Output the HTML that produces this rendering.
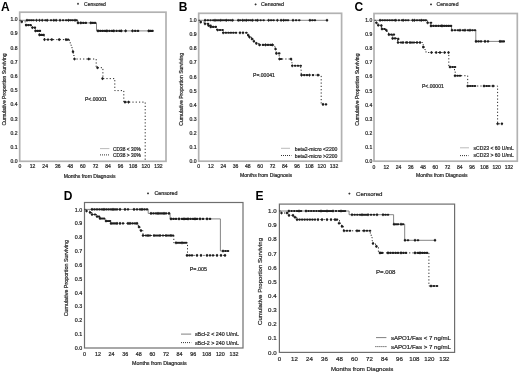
<!DOCTYPE html><html><head><meta charset="utf-8"><style>html,body{margin:0;padding:0;background:#fff;}svg{display:block;filter:grayscale(1);}text{font-family:"Liberation Sans", sans-serif;}</style></head><body>
<svg width="520" height="375" viewBox="0 0 520 375">
<rect width="520" height="375" fill="#fff"/>
<text x="0.9" y="11" font-size="12" text-anchor="start" fill="#000" font-weight="bold">A</text>
<rect x="19.7" y="12.2" width="146.3" height="149.1" fill="none" stroke="#b2b2b2" stroke-width="1.7"/>
<text x="17.6" y="163.22" font-size="5.05" text-anchor="end" fill="#2a2a2a" font-weight="normal" stroke="#2a2a2a" stroke-width="0.22">0.0</text>
<text x="17.6" y="149.02" font-size="5.05" text-anchor="end" fill="#2a2a2a" font-weight="normal" stroke="#2a2a2a" stroke-width="0.22">0.1</text>
<text x="17.6" y="134.82" font-size="5.05" text-anchor="end" fill="#2a2a2a" font-weight="normal" stroke="#2a2a2a" stroke-width="0.22">0.2</text>
<text x="17.6" y="120.62" font-size="5.05" text-anchor="end" fill="#2a2a2a" font-weight="normal" stroke="#2a2a2a" stroke-width="0.22">0.3</text>
<text x="17.6" y="106.42" font-size="5.05" text-anchor="end" fill="#2a2a2a" font-weight="normal" stroke="#2a2a2a" stroke-width="0.22">0.4</text>
<text x="17.6" y="92.22" font-size="5.05" text-anchor="end" fill="#2a2a2a" font-weight="normal" stroke="#2a2a2a" stroke-width="0.22">0.5</text>
<text x="17.6" y="78.02" font-size="5.05" text-anchor="end" fill="#2a2a2a" font-weight="normal" stroke="#2a2a2a" stroke-width="0.22">0.6</text>
<text x="17.6" y="63.82" font-size="5.05" text-anchor="end" fill="#2a2a2a" font-weight="normal" stroke="#2a2a2a" stroke-width="0.22">0.7</text>
<text x="17.6" y="49.62" font-size="5.05" text-anchor="end" fill="#2a2a2a" font-weight="normal" stroke="#2a2a2a" stroke-width="0.22">0.8</text>
<text x="17.6" y="35.42" font-size="5.05" text-anchor="end" fill="#2a2a2a" font-weight="normal" stroke="#2a2a2a" stroke-width="0.22">0.9</text>
<text x="17.6" y="21.22" font-size="5.05" text-anchor="end" fill="#2a2a2a" font-weight="normal" stroke="#2a2a2a" stroke-width="0.22">1.0</text>
<text x="20" y="168.4" font-size="5.05" text-anchor="middle" fill="#2a2a2a" font-weight="normal" stroke="#2a2a2a" stroke-width="0.22">0</text>
<text x="32.58" y="168.4" font-size="5.05" text-anchor="middle" fill="#2a2a2a" font-weight="normal" stroke="#2a2a2a" stroke-width="0.22">12</text>
<text x="45.15" y="168.4" font-size="5.05" text-anchor="middle" fill="#2a2a2a" font-weight="normal" stroke="#2a2a2a" stroke-width="0.22">24</text>
<text x="57.73" y="168.4" font-size="5.05" text-anchor="middle" fill="#2a2a2a" font-weight="normal" stroke="#2a2a2a" stroke-width="0.22">36</text>
<text x="70.3" y="168.4" font-size="5.05" text-anchor="middle" fill="#2a2a2a" font-weight="normal" stroke="#2a2a2a" stroke-width="0.22">48</text>
<text x="82.88" y="168.4" font-size="5.05" text-anchor="middle" fill="#2a2a2a" font-weight="normal" stroke="#2a2a2a" stroke-width="0.22">60</text>
<text x="95.46" y="168.4" font-size="5.05" text-anchor="middle" fill="#2a2a2a" font-weight="normal" stroke="#2a2a2a" stroke-width="0.22">72</text>
<text x="108.03" y="168.4" font-size="5.05" text-anchor="middle" fill="#2a2a2a" font-weight="normal" stroke="#2a2a2a" stroke-width="0.22">84</text>
<text x="120.61" y="168.4" font-size="5.05" text-anchor="middle" fill="#2a2a2a" font-weight="normal" stroke="#2a2a2a" stroke-width="0.22">96</text>
<text x="133.18" y="168.4" font-size="5.05" text-anchor="middle" fill="#2a2a2a" font-weight="normal" stroke="#2a2a2a" stroke-width="0.22">108</text>
<text x="145.76" y="168.4" font-size="5.05" text-anchor="middle" fill="#2a2a2a" font-weight="normal" stroke="#2a2a2a" stroke-width="0.22">120</text>
<text x="158.34" y="168.4" font-size="5.05" text-anchor="middle" fill="#2a2a2a" font-weight="normal" stroke="#2a2a2a" stroke-width="0.22">132</text>
<text x="0" y="0" font-size="5.05" text-anchor="middle" fill="#2a2a2a" font-weight="normal" stroke="#2a2a2a" stroke-width="0.22" transform="translate(6.12 89.5) rotate(-90)">Cumulative Proportion Surviving</text>
<text x="63.8" y="177.6" font-size="5.05" text-anchor="start" fill="#2a2a2a" font-weight="normal" stroke="#2a2a2a" stroke-width="0.22">Months from Diagnosis</text>
<path d="M77 3.8h2M78 2.8v2" stroke="#222" stroke-width="0.8" fill="none"/>
<text x="84" y="5.62" font-size="5.05" text-anchor="start" fill="#2a2a2a" font-weight="normal" stroke="#2a2a2a" stroke-width="0.22">Censored</text>
<text x="85" y="100.8" font-size="5.05" text-anchor="start" fill="#2a2a2a" font-weight="normal" stroke="#2a2a2a" stroke-width="0.22">P&lt;.00001</text>
<line x1="100" y1="148.6" x2="109.4" y2="148.6" stroke="#bbb" stroke-width="1"/>
<text x="113.1" y="150.95" font-size="4.85" text-anchor="start" fill="#2a2a2a" font-weight="normal" stroke="#2a2a2a" stroke-width="0.22">CD38 &lt; 30%</text>
<line x1="100" y1="154.9" x2="110" y2="154.9" stroke="#333" stroke-width="1" stroke-dasharray="1 1"/>
<text x="113.1" y="157.45" font-size="4.85" text-anchor="start" fill="#2a2a2a" font-weight="normal" stroke="#2a2a2a" stroke-width="0.22">CD38 &gt; 30%</text>
<polyline points="19.5,20.3 77.8,20.3 77.8,22.9 96.5,22.9 96.5,30.9 152.5,30.9" fill="none" stroke="#666" stroke-width="0.8"/>
<polyline points="19.5,20.3 21.5,20.3 21.5,21.8 25.5,21.8 25.5,25.1 31.5,25.1 31.5,27.6 35,27.6 35,30.9 39.3,30.9 39.3,34.9 43.8,34.9 43.8,36.1 44.5,36.1 44.5,39.6 69.5,39.6 69.5,41.1 70.2,41.1 70.2,44.9 71.2,44.9 71.2,46.1 72,46.1 72,49.9 72.8,49.9 72.8,51.75 73.3,51.75 73.3,55.5 74.3,55.5 74.3,59 96.2,59 96.2,67.7 102.9,67.7 102.9,78.6 114.8,78.6 114.8,90.6 123.8,90.6 123.8,102.1 145.2,102.1 145.2,161.3" fill="none" stroke="#2a2a2a" stroke-width="1.0" stroke-dasharray="1.2 2.1"/>
<path d="M26.75 20.3h0.5M28.92 20.3h0.5M31.08 20.3h0.5M33.25 20.3h0.5M36.25 20.3h0.5M39.25 20.3h0.5M42.05 20.3h0.5M45.15 20.3h0.5M47.05 20.3h0.5M50.75 20.3h0.5M53.55 20.3h0.5M55.95 20.3h0.5M59.75 20.3h0.5M62.85 20.3h0.5M65.95 20.3h0.5M68.25 20.3h0.5M70.35 20.3h0.5M72.45 20.3h0.5M74.75 20.3h0.5M76.25 20.3h0.5M77.75 22.9h0.5M80.55 22.9h0.5M83.05 22.9h0.5M85.55 22.9h0.5M90.55 22.9h0.5M92.65 22.9h0.5M94.75 22.9h0.5M97.75 30.9h0.5M100.08 30.9h0.5M102.42 30.9h0.5M104.75 30.9h0.5M106.65 30.9h0.5M109.15 30.9h0.5M111.65 30.9h0.5M113.5 30.9h0.5M116.33 30.9h0.5M119.15 30.9h0.5M121 30.9h0.5M125.35 30.9h0.5M132.25 30.9h0.5M135 30.9h0.5M137.75 30.9h0.5M148.5 30.9h0.5M150.38 30.9h0.5M152.25 30.9h0.5M21.5 21.8h0.5M25.85 25.1h0.5M28.05 25.1h0.5M30.25 25.1h0.5M32.15 27.6h0.5M34.65 27.6h0.5M35.25 30.9h0.5M37.45 30.9h0.5M39.65 30.9h0.5M39.25 34.9h0.5M41.3 34.9h0.5M43.35 34.9h0.5M44.25 39.6h0.5M47.75 39.6h0.5M51.5 39.6h0.5M59 39.6h0.5M65.75 39.6h0.5M67.75 39.6h0.5M72.75 51.75h0.5M74.25 59h0.5M88.45 59h0.5M97.25 67.7h0.5M102.25 78.6h0.5M124.75 102.1h0.5M128.25 102.1h0.5" stroke="#1e1e1e" stroke-width="2.1" stroke-linecap="round" fill="none"/>
<path d="M27 18.8v3M36.5 18.8v3M39.5 18.8v3M42.3 18.8v3M47.3 18.8v3M53.8 18.8v3M56.2 18.8v3M60 18.8v3M68.5 18.8v3M75 18.8v3M78 21.4v3M80.8 21.4v3M90.8 21.4v3M98 29.4v3M106.9 29.4v3M113.75 29.4v3M121.25 29.4v3M125.6 29.4v3M132.5 29.4v3M148.75 29.4v3M21.75 20.3v3M26.1 23.6v3M32.4 26.1v3M35.5 29.4v3M39.5 33.4v3M44.5 38.1v3M51.75 38.1v3M59.25 38.1v3M66 38.1v3M73 50.25v3M74.5 57.5v3M88.7 57.5v3M97.5 66.2v3M102.5 77.1v3M125 100.6v3M128.5 100.6v3" stroke="#1e1e1e" stroke-width="0.7" fill="none"/>
<text x="178.7" y="10.9" font-size="12" text-anchor="start" fill="#000" font-weight="bold">B</text>
<rect x="198.7" y="13.3" width="142.9" height="147.9" fill="none" stroke="#b2b2b2" stroke-width="1.7"/>
<text x="196.5" y="163.04" font-size="5.1" text-anchor="end" fill="#2a2a2a" font-weight="normal" stroke="#2a2a2a" stroke-width="0.22">0.0</text>
<text x="196.5" y="148.96" font-size="5.1" text-anchor="end" fill="#2a2a2a" font-weight="normal" stroke="#2a2a2a" stroke-width="0.22">0.1</text>
<text x="196.5" y="134.88" font-size="5.1" text-anchor="end" fill="#2a2a2a" font-weight="normal" stroke="#2a2a2a" stroke-width="0.22">0.2</text>
<text x="196.5" y="120.8" font-size="5.1" text-anchor="end" fill="#2a2a2a" font-weight="normal" stroke="#2a2a2a" stroke-width="0.22">0.3</text>
<text x="196.5" y="106.72" font-size="5.1" text-anchor="end" fill="#2a2a2a" font-weight="normal" stroke="#2a2a2a" stroke-width="0.22">0.4</text>
<text x="196.5" y="92.64" font-size="5.1" text-anchor="end" fill="#2a2a2a" font-weight="normal" stroke="#2a2a2a" stroke-width="0.22">0.5</text>
<text x="196.5" y="78.56" font-size="5.1" text-anchor="end" fill="#2a2a2a" font-weight="normal" stroke="#2a2a2a" stroke-width="0.22">0.6</text>
<text x="196.5" y="64.48" font-size="5.1" text-anchor="end" fill="#2a2a2a" font-weight="normal" stroke="#2a2a2a" stroke-width="0.22">0.7</text>
<text x="196.5" y="50.4" font-size="5.1" text-anchor="end" fill="#2a2a2a" font-weight="normal" stroke="#2a2a2a" stroke-width="0.22">0.8</text>
<text x="196.5" y="36.32" font-size="5.1" text-anchor="end" fill="#2a2a2a" font-weight="normal" stroke="#2a2a2a" stroke-width="0.22">0.9</text>
<text x="196.5" y="22.24" font-size="5.1" text-anchor="end" fill="#2a2a2a" font-weight="normal" stroke="#2a2a2a" stroke-width="0.22">1.0</text>
<text x="198.6" y="168.2" font-size="5.1" text-anchor="middle" fill="#2a2a2a" font-weight="normal" stroke="#2a2a2a" stroke-width="0.22">0</text>
<text x="210.91" y="168.2" font-size="5.1" text-anchor="middle" fill="#2a2a2a" font-weight="normal" stroke="#2a2a2a" stroke-width="0.22">12</text>
<text x="223.22" y="168.2" font-size="5.1" text-anchor="middle" fill="#2a2a2a" font-weight="normal" stroke="#2a2a2a" stroke-width="0.22">24</text>
<text x="235.54" y="168.2" font-size="5.1" text-anchor="middle" fill="#2a2a2a" font-weight="normal" stroke="#2a2a2a" stroke-width="0.22">36</text>
<text x="247.85" y="168.2" font-size="5.1" text-anchor="middle" fill="#2a2a2a" font-weight="normal" stroke="#2a2a2a" stroke-width="0.22">48</text>
<text x="260.16" y="168.2" font-size="5.1" text-anchor="middle" fill="#2a2a2a" font-weight="normal" stroke="#2a2a2a" stroke-width="0.22">60</text>
<text x="272.47" y="168.2" font-size="5.1" text-anchor="middle" fill="#2a2a2a" font-weight="normal" stroke="#2a2a2a" stroke-width="0.22">72</text>
<text x="284.78" y="168.2" font-size="5.1" text-anchor="middle" fill="#2a2a2a" font-weight="normal" stroke="#2a2a2a" stroke-width="0.22">84</text>
<text x="297.1" y="168.2" font-size="5.1" text-anchor="middle" fill="#2a2a2a" font-weight="normal" stroke="#2a2a2a" stroke-width="0.22">96</text>
<text x="309.41" y="168.2" font-size="5.1" text-anchor="middle" fill="#2a2a2a" font-weight="normal" stroke="#2a2a2a" stroke-width="0.22">108</text>
<text x="321.72" y="168.2" font-size="5.1" text-anchor="middle" fill="#2a2a2a" font-weight="normal" stroke="#2a2a2a" stroke-width="0.22">120</text>
<text x="334.03" y="168.2" font-size="5.1" text-anchor="middle" fill="#2a2a2a" font-weight="normal" stroke="#2a2a2a" stroke-width="0.22">132</text>
<text x="0" y="0" font-size="5.1" text-anchor="middle" fill="#2a2a2a" font-weight="normal" stroke="#2a2a2a" stroke-width="0.22" transform="translate(182.74 89.3) rotate(-90)">Cumulative Proportion Surviving</text>
<text x="240" y="177" font-size="5.1" text-anchor="start" fill="#2a2a2a" font-weight="normal" stroke="#2a2a2a" stroke-width="0.22">Months from Diagnosis</text>
<path d="M254.6 4.4h2M255.6 3.4v2" stroke="#222" stroke-width="0.8" fill="none"/>
<text x="261" y="6.31" font-size="5.3" text-anchor="start" fill="#2a2a2a" font-weight="normal" stroke="#2a2a2a" stroke-width="0.22">Censored</text>
<text x="253" y="76.9" font-size="5.1" text-anchor="start" fill="#2a2a2a" font-weight="normal" stroke="#2a2a2a" stroke-width="0.22">P=.00041</text>
<line x1="281" y1="148.3" x2="290" y2="148.3" stroke="#bbb" stroke-width="1"/>
<text x="294.8" y="150.64" font-size="5.1" text-anchor="start" fill="#2a2a2a" font-weight="normal" stroke="#2a2a2a" stroke-width="0.22">beta2-micro &lt;2200</text>
<line x1="281" y1="155.5" x2="291.4" y2="155.5" stroke="#333" stroke-width="1" stroke-dasharray="1 1"/>
<text x="294.8" y="157.84" font-size="5.1" text-anchor="start" fill="#2a2a2a" font-weight="normal" stroke="#2a2a2a" stroke-width="0.22">beta2-micro &gt;2200</text>
<polyline points="198.6,20.3 328,20.3" fill="none" stroke="#666" stroke-width="0.8"/>
<polyline points="198.6,20.3 200.5,20.3 200.5,22.1 204.5,22.1 204.5,23.8 208,23.8 208,25.5 210.5,25.5 210.5,26.9 216.5,26.9 216.5,30 222.7,30 222.7,32.8 247.5,32.8 247.5,35.2 249,35.2 249,37.1 251.5,37.1 251.5,39 253.5,39 253.5,41.3 256,41.3 256,43.4 258.5,43.4 258.5,44.9 273.8,44.9 273.8,46.5 275,46.5 275,49 276.2,49 276.2,53.4 279.2,53.4 279.2,59 291.6,59 291.6,62.8 292.3,62.8 292.3,65.8 300.7,65.8 300.7,69.9 301.2,69.9 301.2,75.1 321.2,75.1 321.2,104.4 326,104.4" fill="none" stroke="#2a2a2a" stroke-width="1.0" stroke-dasharray="1.2 2.1"/>
<path d="M204.85 20.3h0.5M207.57 20.3h0.5M210.28 20.3h0.5M213 20.3h0.5M214.75 20.3h0.5M216.7 20.3h0.5M218.65 20.3h0.5M220.5 20.3h0.5M222.68 20.3h0.5M224.85 20.3h0.5M226.15 20.3h0.5M228.32 20.3h0.5M230.5 20.3h0.5M232.35 20.3h0.5M238 20.3h0.5M239.85 20.3h0.5M242.35 20.3h0.5M244.25 20.3h0.5M246.15 20.3h0.5M248.32 20.3h0.5M250.5 20.3h0.5M252.35 20.3h0.5M255.5 20.3h0.5M257.35 20.3h0.5M260.35 20.3h0.5M263.35 20.3h0.5M268.35 20.3h0.5M270.85 20.3h0.5M273.35 20.3h0.5M277.15 20.3h0.5M280.85 20.3h0.5M283.35 20.3h0.5M285.55 20.3h0.5M287.75 20.3h0.5M292.75 20.3h0.5M295.88 20.3h0.5M299 20.3h0.5M309.65 20.3h0.5M312.15 20.3h0.5M314.65 20.3h0.5M326.75 20.3h0.5M200.5 22.1h0.5M204.75 23.8h0.5M207.75 23.8h0.5M208.25 25.5h0.5M210.25 25.5h0.5M210.5 26.9h0.5M213 26.9h0.5M215.5 26.9h0.5M217.35 30h0.5M219.85 30h0.5M222.35 30h0.5M223 32.8h0.5M225.55 32.8h0.5M228.1 32.8h0.5M230.65 32.8h0.5M233.2 32.8h0.5M235.75 32.8h0.5M239.75 32.8h0.5M242.75 32.8h0.5M246.15 32.8h0.5M248 35.2h0.5M249.25 37.1h0.5M251.75 39h0.5M253.65 41.3h0.5M256.15 43.4h0.5M259.25 44.9h0.5M262.75 44.9h0.5M265.25 44.9h0.5M267.75 44.9h0.5M270.25 44.9h0.5M272.15 44.9h0.5M275.25 49h0.5M276.15 53.4h0.5M278.95 53.4h0.5M279.25 59h0.5M280.75 59h0.5M290.75 59h0.5M292.05 65.8h0.5M294.85 65.8h0.5M297.65 65.8h0.5M300.45 65.8h0.5M301.25 75.1h0.5M304 75.1h0.5M306.75 75.1h0.5M309.25 75.1h0.5M312.75 75.1h0.5M317.75 75.1h0.5M322.75 104.4h0.5M325.75 104.4h0.5" stroke="#1e1e1e" stroke-width="2.1" stroke-linecap="round" fill="none"/>
<path d="M205.1 18.8v3M215 18.8v3M220.75 18.8v3M226.4 18.8v3M232.6 18.8v3M238.25 18.8v3M242.6 18.8v3M246.4 18.8v3M252.6 18.8v3M257.6 18.8v3M268.6 18.8v3M277.4 18.8v3M281.1 18.8v3M283.6 18.8v3M293 18.8v3M309.9 18.8v3M327 18.8v3M200.75 20.6v3M205 22.3v3M208.5 24v3M210.75 25.4v3M217.6 28.5v3M223.25 31.3v3M240 31.3v3M243 31.3v3M248.25 33.7v3M249.5 35.6v3M252 37.5v3M253.9 39.8v3M256.4 41.9v3M259.5 43.4v3M265.5 43.4v3M272.4 43.4v3M275.5 47.5v3M276.4 51.9v3M279.5 57.5v3M291 57.5v3M292.3 64.3v3M301.5 73.6v3M309.5 73.6v3M318 73.6v3M323 102.9v3" stroke="#1e1e1e" stroke-width="0.7" fill="none"/>
<text x="354.4" y="10.5" font-size="12" text-anchor="start" fill="#000" font-weight="bold">C</text>
<rect x="374" y="13.5" width="143.3" height="147.7" fill="none" stroke="#b2b2b2" stroke-width="1.7"/>
<text x="372.3" y="163.02" font-size="5.05" text-anchor="end" fill="#2a2a2a" font-weight="normal" stroke="#2a2a2a" stroke-width="0.22">0.0</text>
<text x="372.3" y="148.92" font-size="5.05" text-anchor="end" fill="#2a2a2a" font-weight="normal" stroke="#2a2a2a" stroke-width="0.22">0.1</text>
<text x="372.3" y="134.82" font-size="5.05" text-anchor="end" fill="#2a2a2a" font-weight="normal" stroke="#2a2a2a" stroke-width="0.22">0.2</text>
<text x="372.3" y="120.72" font-size="5.05" text-anchor="end" fill="#2a2a2a" font-weight="normal" stroke="#2a2a2a" stroke-width="0.22">0.3</text>
<text x="372.3" y="106.62" font-size="5.05" text-anchor="end" fill="#2a2a2a" font-weight="normal" stroke="#2a2a2a" stroke-width="0.22">0.4</text>
<text x="372.3" y="92.52" font-size="5.05" text-anchor="end" fill="#2a2a2a" font-weight="normal" stroke="#2a2a2a" stroke-width="0.22">0.5</text>
<text x="372.3" y="78.42" font-size="5.05" text-anchor="end" fill="#2a2a2a" font-weight="normal" stroke="#2a2a2a" stroke-width="0.22">0.6</text>
<text x="372.3" y="64.32" font-size="5.05" text-anchor="end" fill="#2a2a2a" font-weight="normal" stroke="#2a2a2a" stroke-width="0.22">0.7</text>
<text x="372.3" y="50.22" font-size="5.05" text-anchor="end" fill="#2a2a2a" font-weight="normal" stroke="#2a2a2a" stroke-width="0.22">0.8</text>
<text x="372.3" y="36.12" font-size="5.05" text-anchor="end" fill="#2a2a2a" font-weight="normal" stroke="#2a2a2a" stroke-width="0.22">0.9</text>
<text x="372.3" y="22.02" font-size="5.05" text-anchor="end" fill="#2a2a2a" font-weight="normal" stroke="#2a2a2a" stroke-width="0.22">1.0</text>
<text x="374" y="168.6" font-size="5.05" text-anchor="middle" fill="#2a2a2a" font-weight="normal" stroke="#2a2a2a" stroke-width="0.22">0</text>
<text x="386.26" y="168.6" font-size="5.05" text-anchor="middle" fill="#2a2a2a" font-weight="normal" stroke="#2a2a2a" stroke-width="0.22">12</text>
<text x="398.53" y="168.6" font-size="5.05" text-anchor="middle" fill="#2a2a2a" font-weight="normal" stroke="#2a2a2a" stroke-width="0.22">24</text>
<text x="410.79" y="168.6" font-size="5.05" text-anchor="middle" fill="#2a2a2a" font-weight="normal" stroke="#2a2a2a" stroke-width="0.22">36</text>
<text x="423.06" y="168.6" font-size="5.05" text-anchor="middle" fill="#2a2a2a" font-weight="normal" stroke="#2a2a2a" stroke-width="0.22">48</text>
<text x="435.32" y="168.6" font-size="5.05" text-anchor="middle" fill="#2a2a2a" font-weight="normal" stroke="#2a2a2a" stroke-width="0.22">60</text>
<text x="447.58" y="168.6" font-size="5.05" text-anchor="middle" fill="#2a2a2a" font-weight="normal" stroke="#2a2a2a" stroke-width="0.22">72</text>
<text x="459.85" y="168.6" font-size="5.05" text-anchor="middle" fill="#2a2a2a" font-weight="normal" stroke="#2a2a2a" stroke-width="0.22">84</text>
<text x="472.11" y="168.6" font-size="5.05" text-anchor="middle" fill="#2a2a2a" font-weight="normal" stroke="#2a2a2a" stroke-width="0.22">96</text>
<text x="484.38" y="168.6" font-size="5.05" text-anchor="middle" fill="#2a2a2a" font-weight="normal" stroke="#2a2a2a" stroke-width="0.22">108</text>
<text x="496.64" y="168.6" font-size="5.05" text-anchor="middle" fill="#2a2a2a" font-weight="normal" stroke="#2a2a2a" stroke-width="0.22">120</text>
<text x="508.9" y="168.6" font-size="5.05" text-anchor="middle" fill="#2a2a2a" font-weight="normal" stroke="#2a2a2a" stroke-width="0.22">132</text>
<text x="0" y="0" font-size="5.05" text-anchor="middle" fill="#2a2a2a" font-weight="normal" stroke="#2a2a2a" stroke-width="0.22" transform="translate(358.52 89.6) rotate(-90)">Cumulative Proportion Surviving</text>
<text x="416" y="177.2" font-size="5.05" text-anchor="start" fill="#2a2a2a" font-weight="normal" stroke="#2a2a2a" stroke-width="0.22">Months from Diagnosis</text>
<path d="M430 4.4h2M431 3.4v2" stroke="#222" stroke-width="0.8" fill="none"/>
<text x="436.6" y="6.22" font-size="5.05" text-anchor="start" fill="#2a2a2a" font-weight="normal" stroke="#2a2a2a" stroke-width="0.22">Censored</text>
<text x="422" y="87.7" font-size="5.05" text-anchor="start" fill="#2a2a2a" font-weight="normal" stroke="#2a2a2a" stroke-width="0.22">P&lt;.00001</text>
<line x1="460" y1="147.8" x2="469" y2="147.8" stroke="#bbb" stroke-width="1"/>
<text x="473.6" y="150.12" font-size="5.05" text-anchor="start" fill="#2a2a2a" font-weight="normal" stroke="#2a2a2a" stroke-width="0.22">sCD23 &lt; 60 U/mL</text>
<line x1="460" y1="155.6" x2="468.5" y2="155.6" stroke="#333" stroke-width="1" stroke-dasharray="1 1"/>
<text x="473.6" y="157.42" font-size="5.05" text-anchor="start" fill="#2a2a2a" font-weight="normal" stroke="#2a2a2a" stroke-width="0.22">sCD23 &gt; 60 U/mL</text>
<polyline points="374.5,20.3 427.6,20.3 427.6,22.8 430.75,22.8 430.75,25.9 451.5,25.9 451.5,30.2 475.8,30.2 475.8,41.4 503.8,41.4" fill="none" stroke="#666" stroke-width="0.8"/>
<polyline points="374.5,20.3 376,20.3 376,22.8 378,22.8 378,25.3 381.4,25.3 381.4,29 385.5,29 385.5,31.5 388.5,31.5 388.5,34.6 392.6,34.6 392.6,38.4 397.6,38.4 397.6,42.5 422.6,42.5 422.6,44 423.2,44 423.2,47.1 425,47.1 425,50 426,50 426,52.5 448.8,52.5 448.8,67 454.5,67 454.5,70.4 455.2,70.4 455.2,75.7 467.7,75.7 467.7,86 497.6,86 497.6,123.8 502,123.8" fill="none" stroke="#2a2a2a" stroke-width="1.0" stroke-dasharray="1.2 2.1"/>
<path d="M379.85 20.3h0.5M382.25 20.3h0.5M384.65 20.3h0.5M387.05 20.3h0.5M389.45 20.3h0.5M391.85 20.3h0.5M394.25 20.3h0.5M395.5 20.3h0.5M398.62 20.3h0.5M401.75 20.3h0.5M403 20.3h0.5M405.5 20.3h0.5M408 20.3h0.5M412.35 20.3h0.5M414.25 20.3h0.5M416.75 20.3h0.5M419.25 20.3h0.5M421.15 20.3h0.5M423.32 20.3h0.5M425.5 20.3h0.5M427.35 22.8h0.5M430.75 22.8h0.5M430.75 25.9h0.5M433.25 25.9h0.5M435.75 25.9h0.5M438.25 25.9h0.5M440.75 25.9h0.5M441.75 25.9h0.5M444 25.9h0.5M446.25 25.9h0.5M448.5 25.9h0.5M450.75 25.9h0.5M451.75 30.2h0.5M454.75 30.2h0.5M457.75 30.2h0.5M459.75 30.2h0.5M462.75 30.2h0.5M464.75 30.2h0.5M467.75 30.2h0.5M469.75 30.2h0.5M472.25 30.2h0.5M474.75 30.2h0.5M475.75 41.4h0.5M478.25 41.4h0.5M480.75 41.4h0.5M484.75 41.4h0.5M487.75 41.4h0.5M499.75 41.4h0.5M501.65 41.4h0.5M503.55 41.4h0.5M376.15 22.8h0.5M378 25.3h0.5M381.15 25.6h0.5M381.75 29h0.5M384.25 29h0.5M386.15 30.3h0.5M388.65 34.6h0.5M391.15 34.6h0.5M393.65 34.6h0.5M392.35 38.4h0.5M394.85 38.4h0.5M398 39h0.5M397.75 42.5h0.5M400.75 42.5h0.5M402.75 42.5h0.5M405.75 42.5h0.5M406.75 42.5h0.5M409.75 42.5h0.5M411.75 42.5h0.5M413.75 42.5h0.5M416.75 42.5h0.5M419.75 42.5h0.5M423 47.1h0.5M431.25 52.5h0.5M435.95 52.5h0.5M439.75 52.5h0.5M444.35 52.5h0.5M448.25 52.5h0.5M449.75 67h0.5M452.25 67h0.5M454.75 67h0.5M454.75 75.7h0.5M457.25 75.7h0.5M459.75 75.7h0.5M467.45 86h0.5M469.88 86h0.5M472.32 86h0.5M474.75 86h0.5M483.75 86h0.5M486.25 86h0.5M488.75 86h0.5M492.75 86h0.5M497.35 123.8h0.5M501.65 123.8h0.5" stroke="#1e1e1e" stroke-width="2.1" stroke-linecap="round" fill="none"/>
<path d="M380.1 18.8v3M395.75 18.8v3M403.25 18.8v3M412.6 18.8v3M414.5 18.8v3M421.4 18.8v3M427.6 21.3v3M431 24.4v3M442 24.4v3M452 28.7v3M460 28.7v3M465 28.7v3M470 28.7v3M476 39.9v3M485 39.9v3M500 39.9v3M376.4 21.3v3M378.25 23.8v3M381.4 24.1v3M382 27.5v3M386.4 28.8v3M388.9 33.1v3M392.6 36.9v3M398.25 37.5v3M398 41v3M403 41v3M407 41v3M410 41v3M417 41v3M420 41v3M423.25 45.6v3M431.5 51v3M436.2 51v3M440 51v3M444.6 51v3M448.5 51v3M450 65.5v3M455 74.2v3M467.7 84.5v3M484 84.5v3M493 84.5v3M497.6 122.3v3M501.9 122.3v3" stroke="#1e1e1e" stroke-width="0.7" fill="none"/>
<text x="63.8" y="199.8" font-size="12" text-anchor="start" fill="#000" font-weight="bold">D</text>
<rect x="84.5" y="202.5" width="158.5" height="145.5" fill="none" stroke="#6e6e6e" stroke-width="1.2"/>
<text x="82.3" y="349.93" font-size="5.35" text-anchor="end" fill="#2a2a2a" font-weight="normal" stroke="#2a2a2a" stroke-width="0.22">0.0</text>
<text x="82.3" y="336.09" font-size="5.35" text-anchor="end" fill="#2a2a2a" font-weight="normal" stroke="#2a2a2a" stroke-width="0.22">0.1</text>
<text x="82.3" y="322.25" font-size="5.35" text-anchor="end" fill="#2a2a2a" font-weight="normal" stroke="#2a2a2a" stroke-width="0.22">0.2</text>
<text x="82.3" y="308.41" font-size="5.35" text-anchor="end" fill="#2a2a2a" font-weight="normal" stroke="#2a2a2a" stroke-width="0.22">0.3</text>
<text x="82.3" y="294.57" font-size="5.35" text-anchor="end" fill="#2a2a2a" font-weight="normal" stroke="#2a2a2a" stroke-width="0.22">0.4</text>
<text x="82.3" y="280.73" font-size="5.35" text-anchor="end" fill="#2a2a2a" font-weight="normal" stroke="#2a2a2a" stroke-width="0.22">0.5</text>
<text x="82.3" y="266.89" font-size="5.35" text-anchor="end" fill="#2a2a2a" font-weight="normal" stroke="#2a2a2a" stroke-width="0.22">0.6</text>
<text x="82.3" y="253.05" font-size="5.35" text-anchor="end" fill="#2a2a2a" font-weight="normal" stroke="#2a2a2a" stroke-width="0.22">0.7</text>
<text x="82.3" y="239.21" font-size="5.35" text-anchor="end" fill="#2a2a2a" font-weight="normal" stroke="#2a2a2a" stroke-width="0.22">0.8</text>
<text x="82.3" y="225.37" font-size="5.35" text-anchor="end" fill="#2a2a2a" font-weight="normal" stroke="#2a2a2a" stroke-width="0.22">0.9</text>
<text x="82.3" y="211.53" font-size="5.35" text-anchor="end" fill="#2a2a2a" font-weight="normal" stroke="#2a2a2a" stroke-width="0.22">1.0</text>
<text x="84.4" y="355.5" font-size="5.35" text-anchor="middle" fill="#2a2a2a" font-weight="normal" stroke="#2a2a2a" stroke-width="0.22">0</text>
<text x="98" y="355.5" font-size="5.35" text-anchor="middle" fill="#2a2a2a" font-weight="normal" stroke="#2a2a2a" stroke-width="0.22">12</text>
<text x="111.59" y="355.5" font-size="5.35" text-anchor="middle" fill="#2a2a2a" font-weight="normal" stroke="#2a2a2a" stroke-width="0.22">24</text>
<text x="125.19" y="355.5" font-size="5.35" text-anchor="middle" fill="#2a2a2a" font-weight="normal" stroke="#2a2a2a" stroke-width="0.22">36</text>
<text x="138.78" y="355.5" font-size="5.35" text-anchor="middle" fill="#2a2a2a" font-weight="normal" stroke="#2a2a2a" stroke-width="0.22">48</text>
<text x="152.38" y="355.5" font-size="5.35" text-anchor="middle" fill="#2a2a2a" font-weight="normal" stroke="#2a2a2a" stroke-width="0.22">60</text>
<text x="165.98" y="355.5" font-size="5.35" text-anchor="middle" fill="#2a2a2a" font-weight="normal" stroke="#2a2a2a" stroke-width="0.22">72</text>
<text x="179.57" y="355.5" font-size="5.35" text-anchor="middle" fill="#2a2a2a" font-weight="normal" stroke="#2a2a2a" stroke-width="0.22">84</text>
<text x="193.17" y="355.5" font-size="5.35" text-anchor="middle" fill="#2a2a2a" font-weight="normal" stroke="#2a2a2a" stroke-width="0.22">96</text>
<text x="206.76" y="355.5" font-size="5.35" text-anchor="middle" fill="#2a2a2a" font-weight="normal" stroke="#2a2a2a" stroke-width="0.22">108</text>
<text x="220.36" y="355.5" font-size="5.35" text-anchor="middle" fill="#2a2a2a" font-weight="normal" stroke="#2a2a2a" stroke-width="0.22">120</text>
<text x="233.96" y="355.5" font-size="5.35" text-anchor="middle" fill="#2a2a2a" font-weight="normal" stroke="#2a2a2a" stroke-width="0.22">132</text>
<text x="0" y="0" font-size="5.35" text-anchor="middle" fill="#2a2a2a" font-weight="normal" stroke="#2a2a2a" stroke-width="0.22" transform="translate(68.13 278.2) rotate(-90)">Cumulative Proportion Surviving</text>
<text x="132" y="365.4" font-size="5.35" text-anchor="start" fill="#2a2a2a" font-weight="normal" stroke="#2a2a2a" stroke-width="0.22">Months from Diagnosis</text>
<path d="M147 193.4h2M148 192.4v2" stroke="#222" stroke-width="0.8" fill="none"/>
<text x="154.4" y="195.33" font-size="5.35" text-anchor="start" fill="#2a2a2a" font-weight="normal" stroke="#2a2a2a" stroke-width="0.22">Censored</text>
<text x="189.8" y="271" font-size="5.35" text-anchor="start" fill="#2a2a2a" font-weight="normal" stroke="#2a2a2a" stroke-width="0.22">P=.005</text>
<line x1="181" y1="334.1" x2="191.2" y2="334.1" stroke="#808080" stroke-width="1"/>
<text x="194.9" y="336.43" font-size="5.35" text-anchor="start" fill="#2a2a2a" font-weight="normal" stroke="#2a2a2a" stroke-width="0.22">sBcl-2 &lt; 240 U/mL</text>
<line x1="181" y1="342.6" x2="191.2" y2="342.6" stroke="#333" stroke-width="1" stroke-dasharray="1 1"/>
<text x="194.9" y="344.63" font-size="5.35" text-anchor="start" fill="#2a2a2a" font-weight="normal" stroke="#2a2a2a" stroke-width="0.22">sBcl-2 &gt; 240 U/mL</text>
<polyline points="84.4,209.4 148.2,209.4 148.2,213.4 170.1,213.4 170.1,218.9 220.4,218.9 220.4,251 228.6,251" fill="none" stroke="#666" stroke-width="0.8"/>
<polyline points="84.4,209.4 86,209.4 86,211 90,211 90,212.5 92,212.5 92,214.5 96.5,214.5 96.5,216.5 100,216.5 100,218.5 105,218.5 105,221 110.5,221 110.5,223.4 138.3,223.4 138.3,227 140.2,227 140.2,230.6 143,230.6 143,235.5 173.8,235.5 173.8,242.8 187.5,242.8 187.5,255.4 225.9,255.4" fill="none" stroke="#2a2a2a" stroke-width="1.0" stroke-dasharray="1.2 2.1"/>
<path d="M91.75 209.4h0.5M94.25 209.4h0.5M96.75 209.4h0.5M99.25 209.4h0.5M101.75 209.4h0.5M103.75 209.4h0.5M106.08 209.4h0.5M108.42 209.4h0.5M110.75 209.4h0.5M112.75 209.4h0.5M114.75 209.4h0.5M116.75 209.4h0.5M119.75 209.4h0.5M124.75 209.4h0.5M127.75 209.4h0.5M133.75 209.4h0.5M136.75 209.4h0.5M139.75 209.4h0.5M141.75 209.4h0.5M144.25 209.4h0.5M146.75 209.4h0.5M150.75 213.4h0.5M153.25 213.4h0.5M155.75 213.4h0.5M157.75 213.4h0.5M159.75 213.4h0.5M161.75 213.4h0.5M163.75 213.4h0.5M165.75 213.4h0.5M168.75 213.4h0.5M170.75 218.9h0.5M173.25 218.9h0.5M175.75 218.9h0.5M178.75 218.9h0.5M181.75 218.9h0.5M183.75 218.9h0.5M185.75 218.9h0.5M187.75 218.9h0.5M190.25 218.9h0.5M192.75 218.9h0.5M194.75 218.9h0.5M196.75 218.9h0.5M199.75 218.9h0.5M202.75 218.9h0.5M206.75 218.9h0.5M209.75 218.9h0.5M222.75 251h0.5M225.25 251h0.5M227.75 251h0.5M86.25 211h0.5M89.75 212.5h0.5M91.75 214.5h0.5M94.75 214.5h0.5M96.75 216.5h0.5M98.75 216.5h0.5M99.75 218.5h0.5M101.75 218.5h0.5M103.75 218.5h0.5M105.75 221h0.5M107.75 221h0.5M109.75 221h0.5M110.75 223.4h0.5M112.75 223.4h0.5M114.75 223.4h0.5M116.75 223.4h0.5M119.75 223.4h0.5M122.75 223.4h0.5M127.75 223.4h0.5M129.75 223.4h0.5M132.25 223.4h0.5M134.75 223.4h0.5M136.75 223.4h0.5M138.75 227h0.5M140.75 230.6h0.5M142.75 235.5h0.5M145.75 235.5h0.5M147.75 235.5h0.5M149.75 235.5h0.5M153.75 235.5h0.5M155.75 235.5h0.5M157.75 235.5h0.5M159.75 235.5h0.5M162.75 235.5h0.5M165.75 235.5h0.5M167.75 235.5h0.5M169.75 235.5h0.5M170.75 235.5h0.5M172.75 235.5h0.5M175.75 242.8h0.5M177.75 242.8h0.5M179.75 242.8h0.5M181.75 242.8h0.5M183.75 242.8h0.5M185.75 242.8h0.5M186.75 255.4h0.5M189.25 255.4h0.5M191.75 255.4h0.5M196.75 255.4h0.5M200.75 255.4h0.5M206.75 255.4h0.5M209.75 255.4h0.5M212.75 255.4h0.5M216.75 255.4h0.5M220.75 255.4h0.5M224.75 255.4h0.5" stroke="#1e1e1e" stroke-width="2.1" stroke-linecap="round" fill="none"/>
<path d="M92 207.9v3M104 207.9v3M113 207.9v3M120 207.9v3M125 207.9v3M134 207.9v3M142 207.9v3M151 211.9v3M158 211.9v3M164 211.9v3M169 211.9v3M171 217.4v3M179 217.4v3M184 217.4v3M188 217.4v3M195 217.4v3M200 217.4v3M207 217.4v3M223 249.5v3M86.5 209.5v3M90 211v3M92 213v3M97 215v3M100 217v3M106 219.5v3M111 221.9v3M117 221.9v3M120 221.9v3M128 221.9v3M130 221.9v3M137 221.9v3M139 225.5v3M141 229.1v3M143 234v3M148 234v3M154 234v3M160 234v3M166 234v3M171 234v3M176 241.3v3M182 241.3v3M187 253.9v3M197 253.9v3M201 253.9v3M207 253.9v3M217 253.9v3M221 253.9v3M225 253.9v3" stroke="#1e1e1e" stroke-width="0.7" fill="none"/>
<text x="255.6" y="199.8" font-size="12" text-anchor="start" fill="#000" font-weight="bold">E</text>
<rect x="279.4" y="204.1" width="175.2" height="148.3" fill="none" stroke="#6e6e6e" stroke-width="1.2"/>
<text x="276.6" y="354.6" font-size="6.1" text-anchor="end" fill="#2a2a2a" font-weight="normal" stroke="#2a2a2a" stroke-width="0.22">0.0</text>
<text x="276.6" y="340.46" font-size="6.1" text-anchor="end" fill="#2a2a2a" font-weight="normal" stroke="#2a2a2a" stroke-width="0.22">0.1</text>
<text x="276.6" y="326.32" font-size="6.1" text-anchor="end" fill="#2a2a2a" font-weight="normal" stroke="#2a2a2a" stroke-width="0.22">0.2</text>
<text x="276.6" y="312.18" font-size="6.1" text-anchor="end" fill="#2a2a2a" font-weight="normal" stroke="#2a2a2a" stroke-width="0.22">0.3</text>
<text x="276.6" y="298.04" font-size="6.1" text-anchor="end" fill="#2a2a2a" font-weight="normal" stroke="#2a2a2a" stroke-width="0.22">0.4</text>
<text x="276.6" y="283.9" font-size="6.1" text-anchor="end" fill="#2a2a2a" font-weight="normal" stroke="#2a2a2a" stroke-width="0.22">0.5</text>
<text x="276.6" y="269.76" font-size="6.1" text-anchor="end" fill="#2a2a2a" font-weight="normal" stroke="#2a2a2a" stroke-width="0.22">0.6</text>
<text x="276.6" y="255.62" font-size="6.1" text-anchor="end" fill="#2a2a2a" font-weight="normal" stroke="#2a2a2a" stroke-width="0.22">0.7</text>
<text x="276.6" y="241.48" font-size="6.1" text-anchor="end" fill="#2a2a2a" font-weight="normal" stroke="#2a2a2a" stroke-width="0.22">0.8</text>
<text x="276.6" y="227.34" font-size="6.1" text-anchor="end" fill="#2a2a2a" font-weight="normal" stroke="#2a2a2a" stroke-width="0.22">0.9</text>
<text x="276.6" y="213.2" font-size="6.1" text-anchor="end" fill="#2a2a2a" font-weight="normal" stroke="#2a2a2a" stroke-width="0.22">1.0</text>
<text x="279.4" y="361" font-size="6.1" text-anchor="middle" fill="#2a2a2a" font-weight="normal" stroke="#2a2a2a" stroke-width="0.22">0</text>
<text x="294.4" y="361" font-size="6.1" text-anchor="middle" fill="#2a2a2a" font-weight="normal" stroke="#2a2a2a" stroke-width="0.22">12</text>
<text x="309.4" y="361" font-size="6.1" text-anchor="middle" fill="#2a2a2a" font-weight="normal" stroke="#2a2a2a" stroke-width="0.22">24</text>
<text x="324.4" y="361" font-size="6.1" text-anchor="middle" fill="#2a2a2a" font-weight="normal" stroke="#2a2a2a" stroke-width="0.22">36</text>
<text x="339.4" y="361" font-size="6.1" text-anchor="middle" fill="#2a2a2a" font-weight="normal" stroke="#2a2a2a" stroke-width="0.22">48</text>
<text x="354.4" y="361" font-size="6.1" text-anchor="middle" fill="#2a2a2a" font-weight="normal" stroke="#2a2a2a" stroke-width="0.22">60</text>
<text x="369.4" y="361" font-size="6.1" text-anchor="middle" fill="#2a2a2a" font-weight="normal" stroke="#2a2a2a" stroke-width="0.22">72</text>
<text x="384.4" y="361" font-size="6.1" text-anchor="middle" fill="#2a2a2a" font-weight="normal" stroke="#2a2a2a" stroke-width="0.22">84</text>
<text x="399.4" y="361" font-size="6.1" text-anchor="middle" fill="#2a2a2a" font-weight="normal" stroke="#2a2a2a" stroke-width="0.22">96</text>
<text x="414.4" y="361" font-size="6.1" text-anchor="middle" fill="#2a2a2a" font-weight="normal" stroke="#2a2a2a" stroke-width="0.22">108</text>
<text x="429.4" y="361" font-size="6.1" text-anchor="middle" fill="#2a2a2a" font-weight="normal" stroke="#2a2a2a" stroke-width="0.22">120</text>
<text x="444.4" y="361" font-size="6.1" text-anchor="middle" fill="#2a2a2a" font-weight="normal" stroke="#2a2a2a" stroke-width="0.22">132</text>
<text x="0" y="0" font-size="6.1" text-anchor="middle" fill="#2a2a2a" font-weight="normal" stroke="#2a2a2a" stroke-width="0.22" transform="translate(261.8 281.5) rotate(-90)">Cumulative Proportion Surviving</text>
<text x="331" y="370.8" font-size="6.1" text-anchor="start" fill="#2a2a2a" font-weight="normal" stroke="#2a2a2a" stroke-width="0.22">Months from Diagnosis</text>
<path d="M348.4 193.6h2M349.4 192.6v2" stroke="#222" stroke-width="0.8" fill="none"/>
<text x="356" y="195.8" font-size="6.1" text-anchor="start" fill="#2a2a2a" font-weight="normal" stroke="#2a2a2a" stroke-width="0.22">Censored</text>
<text x="376" y="274.4" font-size="6.1" text-anchor="start" fill="#2a2a2a" font-weight="normal" stroke="#2a2a2a" stroke-width="0.22">P=.008</text>
<line x1="376" y1="337.6" x2="386.4" y2="337.6" stroke="#808080" stroke-width="1"/>
<text x="390.9" y="340.1" font-size="6.1" text-anchor="start" fill="#2a2a2a" font-weight="normal" stroke="#2a2a2a" stroke-width="0.22">sAPO1/Fas &lt; 7 ng/mL</text>
<line x1="375.4" y1="346.6" x2="386.4" y2="346.6" stroke="#333" stroke-width="1" stroke-dasharray="1 1"/>
<text x="390.9" y="349.1" font-size="6.1" text-anchor="start" fill="#2a2a2a" font-weight="normal" stroke="#2a2a2a" stroke-width="0.22">sAPO1/Fas &gt; 7 ng/mL</text>
<polyline points="279.4,211 349.1,211 349.1,214.7 393.6,214.7 393.6,224.2 404.7,224.2 404.7,240.3 436,240.3" fill="none" stroke="#666" stroke-width="0.8"/>
<polyline points="279.4,211 281.5,211 281.5,213 288.5,213 288.5,215.4 294,215.4 294,217.3 296.8,217.3 296.8,219.6 339.5,219.6 339.5,223.2 341.5,223.2 341.5,226.4 343.5,226.4 343.5,230.8 370.3,230.8 370.3,234 371.2,234 371.2,237.5 372.2,237.5 372.2,241 373.3,241 373.3,243.5 375.5,243.5 375.5,246.4 378.4,246.4 378.4,252.9 428.9,252.9 428.9,286 437,286" fill="none" stroke="#2a2a2a" stroke-width="1.0" stroke-dasharray="1.2 2.1"/>
<path d="M288.65 211h0.5M291.35 211h0.5M294.05 211h0.5M296.75 211h0.5M298.75 211h0.5M300.75 211h0.5M305.75 211h0.5M308.35 211h0.5M310.95 211h0.5M313.55 211h0.5M316.15 211h0.5M318.75 211h0.5M320.75 211h0.5M322.75 211h0.5M324.75 211h0.5M326.75 211h0.5M328.75 211h0.5M330.75 211h0.5M332.75 211h0.5M335.75 211h0.5M338.75 211h0.5M340.75 211h0.5M342.75 211h0.5M344.75 211h0.5M351.75 214.7h0.5M354.42 214.7h0.5M357.08 214.7h0.5M359.75 214.7h0.5M361.75 214.7h0.5M363.75 214.7h0.5M365.75 214.7h0.5M367.75 214.7h0.5M370.75 214.7h0.5M373.75 214.7h0.5M376.75 214.7h0.5M382.75 214.7h0.5M385.25 214.7h0.5M387.75 214.7h0.5M393.75 224.2h0.5M395.75 224.2h0.5M397.75 224.2h0.5M400.75 224.2h0.5M402.75 224.2h0.5M404.75 240.3h0.5M407.75 240.3h0.5M414.75 240.3h0.5M417.75 240.3h0.5M434.75 240.3h0.5M281.25 213h0.5M286.75 213h0.5M288.75 215.4h0.5M292.75 215.4h0.5M294.75 217.3h0.5M296.75 219.6h0.5M299.32 219.6h0.5M301.89 219.6h0.5M304.46 219.6h0.5M307.04 219.6h0.5M309.61 219.6h0.5M312.18 219.6h0.5M314.75 219.6h0.5M317.75 219.6h0.5M321.75 219.6h0.5M326.75 219.6h0.5M330.75 219.6h0.5M334.75 219.6h0.5M336.75 219.6h0.5M338.75 223.2h0.5M341.75 226.4h0.5M343.75 230.8h0.5M346.75 230.8h0.5M349.75 230.8h0.5M356.75 230.8h0.5M358.75 230.8h0.5M363.75 230.8h0.5M366.75 230.8h0.5M369.75 230.8h0.5M372.75 243.5h0.5M376.15 246.4h0.5M379.75 252.9h0.5M381.75 252.9h0.5M387.75 252.9h0.5M390.25 252.9h0.5M392.75 252.9h0.5M395.25 252.9h0.5M397.75 252.9h0.5M400.75 252.9h0.5M403.25 252.9h0.5M405.75 252.9h0.5M414.75 252.9h0.5M417.75 252.9h0.5M419.75 252.9h0.5M422.08 252.9h0.5M424.42 252.9h0.5M426.75 252.9h0.5M430.75 286h0.5M433.75 286h0.5M436.75 286h0.5" stroke="#1e1e1e" stroke-width="2.1" stroke-linecap="round" fill="none"/>
<path d="M288.9 209.5v3M299 209.5v3M306 209.5v3M321 209.5v3M327 209.5v3M333 209.5v3M341 209.5v3M352 213.2v3M362 213.2v3M368 213.2v3M377 213.2v3M383 213.2v3M394 222.7v3M401 222.7v3M405 238.8v3M415 238.8v3M435 238.8v3M281.5 211.5v3M287 211.5v3M289 213.9v3M293 213.9v3M295 215.8v3M297 218.1v3M318 218.1v3M322 218.1v3M327 218.1v3M331 218.1v3M335 218.1v3M339 221.7v3M342 224.9v3M344 229.3v3M357 229.3v3M364 229.3v3M373 242v3M376.4 244.9v3M380 251.4v3M388 251.4v3M401 251.4v3M415 251.4v3M420 251.4v3M431 284.5v3" stroke="#1e1e1e" stroke-width="0.7" fill="none"/>
</svg></body></html>
